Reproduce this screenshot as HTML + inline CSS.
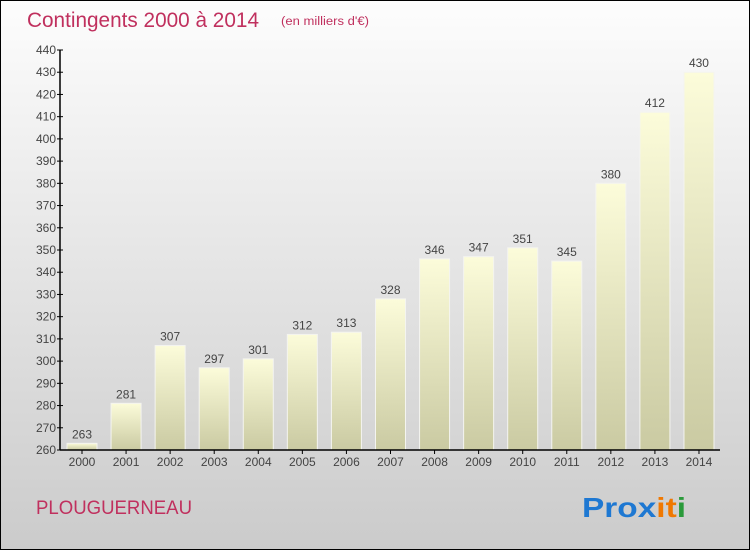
<!DOCTYPE html>
<html><head><meta charset="utf-8"><style>
html,body{margin:0;padding:0}
body{width:750px;height:550px;overflow:hidden;font-family:"Liberation Sans",sans-serif}
</style></head><body>
<svg width="750" height="550" xmlns="http://www.w3.org/2000/svg" font-family="'Liberation Sans',sans-serif">
<defs>
<linearGradient id="bg" x1="0" y1="0" x2="0" y2="1"><stop offset="0" stop-color="#fdfdfd"/><stop offset="1" stop-color="#cbcbcb"/></linearGradient>
<linearGradient id="bar" x1="0" y1="0" x2="0" y2="1"><stop offset="0" stop-color="#fcfcda"/><stop offset="1" stop-color="#cacaa2"/></linearGradient>
</defs>
<rect x="0.5" y="0.5" width="749" height="549" fill="url(#bg)" stroke="#000"/>
<text x="27" y="27" font-size="21" fill="#c0305e" textLength="232" lengthAdjust="spacingAndGlyphs">Contingents 2000 à 2014</text>
<text x="281" y="25" font-size="11.5" fill="#c0305e" textLength="88" lengthAdjust="spacingAndGlyphs">(en milliers d'€)</text>
<g id="bars"></g>
<g id="axes"></g>
<text x="36" y="514" font-size="19" fill="#c0305e" textLength="156" lengthAdjust="spacingAndGlyphs">PLOUGUERNEAU</text>
<text x="582" y="517" font-size="28" font-weight="bold" textLength="104" lengthAdjust="spacingAndGlyphs"><tspan fill="#1e78d2">Prox</tspan><tspan fill="#f07800">it</tspan><tspan fill="#2a9a3a">i</tspan></text>
</svg>
<script>
const years=["2000","2001","2002","2003","2004","2005","2006","2007","2008","2009","2010","2011","2012","2013","2014"];
const values=[263,281,307,297,301,312,313,328,346,347,351,345,380,412,430];
const yTicks=[260,270,280,290,300,310,320,330,340,350,360,370,380,390,400,410,420,430,440];
const NS="http://www.w3.org/2000/svg";
const y0=450,y1=50,vmin=260,vmax=440,xl=60,xr=720;
function yS(v){return y0-(v-vmin)/(vmax-vmin)*(y0-y1);}
function xS(i){return 82+i*44.07;}
function mk(t,a,p){const e=document.createElementNS(NS,t);for(const k in a)e.setAttribute(k,a[k]);p.appendChild(e);return e;}
const gb=document.getElementById('bars'),ga=document.getElementById('axes');
values.forEach((v,i)=>{
 const r=mk('rect',{x:xS(i)-15,y:yS(v),width:30,height:y0-yS(v),fill:'url(#bar)',stroke:'#f4f4f0','stroke-width':1},gb);
 
 
 const t=mk('text',{x:xS(i),y:yS(v)-5,'text-anchor':'middle','font-size':12,fill:'#444'},gb);
 t.textContent=v;
 
 
 const xl2=mk('text',{x:xS(i),y:466,'text-anchor':'middle','font-size':12,fill:'#444'},ga);
 xl2.textContent=years[i];
 
 
 mk('line',{x1:xS(i),x2:xS(i),y1:y0,y2:y0+4,stroke:'#000'},ga);
});
yTicks.forEach(v=>{
 mk('line',{x1:xl-3,x2:xl+3,y1:yS(v),y2:yS(v),stroke:'#000'},ga);
 const t=mk('text',{x:xl-4,y:yS(v)+4,'text-anchor':'end','font-size':12,fill:'#444'},ga);
 t.textContent=v;
 
 
});
const ya=mk('line',{x1:xl,x2:xl,y1:y1,y2:y0,stroke:'#000','stroke-width':1.5},ga);


const xa=mk('line',{x1:xl,x2:xr,y1:y0,y2:y0,stroke:'#000','stroke-width':1.5},ga);


</script>
</body></html>
